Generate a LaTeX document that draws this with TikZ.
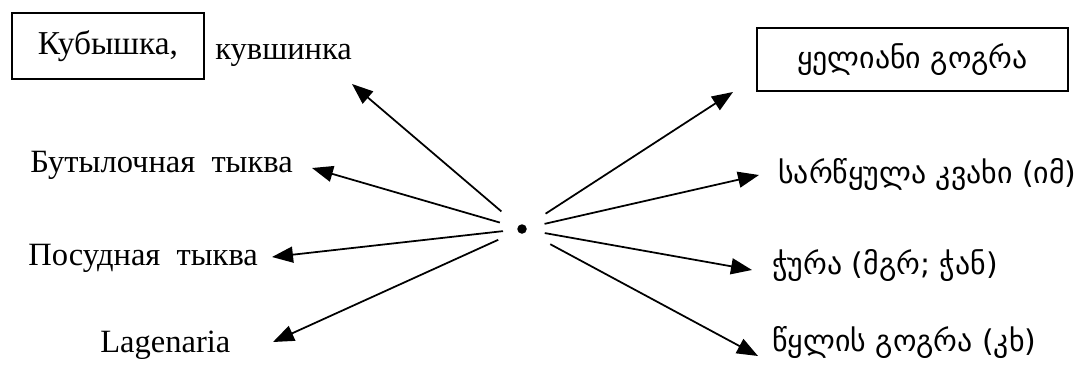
\documentclass[tikz,border=0pt]{standalone}
\usepackage{fontspec}
\setmainfont{Liberation Serif}
\newfontfamily\geofont[Script=Georgian]{DejaVu Sans}
\usetikzlibrary{arrows.meta, positioning}

\begin{document}
\begin{tikzpicture}[x=0.2mm, y=-0.2mm,
    rulabel/.style={font=\fontsize{18.5}{22}\selectfont, inner sep=0pt, anchor=base west},
    kalabel/.style={font=\geofont\fontsize{17}{20}\selectfont, inner sep=0pt, anchor=base west},
    ray/.style={line width=1pt, -{Triangle[length=4.2mm, width=3.2mm]}}]
    \useasboundingbox (0,0) rectangle (1083,383);

    % Draw the hub
    \node[circle, fill=black, inner sep=0pt, minimum size=1.9mm] (hub) at (522,229) {};

    % Left labels
    \node[draw, line width=0.9pt, minimum width=38.4mm, minimum height=13.2mm,
          font=\fontsize{19}{22}\selectfont] (kub) at (108,46) {Кубышка,};
    \node[rulabel] (kuv) at (215,59) {кувшинка};
    \node[rulabel] (but) at (30,172) {Бутылочная\ \ тыква};
    \node[rulabel] (pos) at (28,265) {Посудная\ \ тыква};
    \node[rulabel] (lag) at (100,352) {Lagenaria};

    % Right labels
    \node[draw, line width=0.9pt, minimum width=62.2mm, minimum height=12.6mm,
          font=\geofont\fontsize{17}{20}\selectfont] (kel) at (912.5,59.5) {ყელიანი გოგრა};
    \node[kalabel] (sar) at (778,183) {სარწყულა კვახი (იმ)};
    \node[kalabel] (chur) at (772,274) {ჭურა (მგრ; ჭან)};
    \node[kalabel] (tsq) at (772,351) {წყლის გოგრა (კხ)};

    % Arrow tips
    \coordinate (tkuv) at (352,84);
    \coordinate (tbut) at (312,168);
    \coordinate (tpos) at (272,257);
    \coordinate (tlag) at (273,342);
    \coordinate (tkel) at (733,92);
    \coordinate (tsar) at (759,175);
    \coordinate (tchur) at (752,270);
    \coordinate (ttsq) at (758,356);

    % Draw rays
    \draw[ray, shorten <=4.4mm] (hub) -- (tkuv);
    \draw[ray, shorten <=3.6mm] (hub) -- (tbut);
    \draw[ray, shorten <=2.8mm] (hub) -- (tpos);
    \draw[ray, shorten <=4.2mm] (hub) -- (tlag);
    \draw[ray, shorten <=4.6mm] (hub) -- (tkel);
    \draw[ray, shorten <=3.6mm] (hub) -- (tsar);
    \draw[ray, shorten <=3.6mm] (hub) -- (tchur);
    \draw[ray, shorten <=5.4mm] (hub) -- (ttsq);

\end{tikzpicture}
\end{document}
